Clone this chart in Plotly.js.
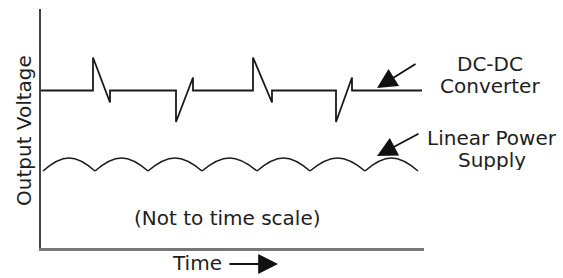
<!DOCTYPE html>
<html>
<head>
<meta charset="utf-8">
<script src="https://cdn.plot.ly/plotly-3.0.1.min.js"></script>
<style>html,body{margin:0;padding:0;background:#fff;}#chart{width:563px;height:278px;}</style>
</head>
<body>
<div id="chart"></div>
<script>
// DC-DC converter output (time units, voltage units)
var dcTime = [0, 52, 52, 69, 69, 135, 135, 152, 152, 212, 212, 231, 231, 295, 295, 311, 311, 381];
var dcVolt = [157.5, 157.5, 190.5, 145.5, 157.5, 157.5, 126, 170.5, 157.5, 157.5, 190.5, 145.5, 157.5, 157.5, 126, 170.5, 157.5, 157.5];

// Linear power supply ripple: cusp times, and ripple trough / crest levels
var linCuspTime = [2, 54, 107, 161, 216, 269, 324, 377];
var linTrough = 77;
var linCrest = 90;

var labels = {
  dc1: "DC-DC", dc2: "Converter",
  lin1: "Linear Power", lin2: "Supply",
  note: "(Not to time scale)",
  xTitle: "Time", yTitle: "Output Voltage"
};

var lineCol = "#1a1a1a";
var traces = [{
  x: dcTime, y: dcVolt, type: "scatter", mode: "lines",
  line: {color: lineCol, width: 1.8}, hoverinfo: "skip", showlegend: false
}];
for (var i = 0; i < linCuspTime.length - 1; i++) {
  var a = linCuspTime[i], b = linCuspTime[i + 1];
  traces.push({
    x: [a, (a + b) / 2, b], y: [linTrough, linCrest, linTrough],
    type: "scatter", mode: "lines",
    line: {color: lineCol, width: 1.5, shape: "spline", smoothing: 1.3},
    hoverinfo: "skip", showlegend: false
  });
}

// pixel -> paper helpers (plot area: x 41..424, y 9..248)
var L = 41, R = 424, T = 9, B = 248;
function px(x) { return (x - L) / (R - L); }
function py(y) { return (B - y) / (B - T); }
var font = {family: "DejaVu Sans, Verdana, sans-serif", size: 20, color: "#1e1e1e"};
function txt(t, x, y, extra) {
  var a = {text: t, xref: "paper", yref: "paper", x: px(x), y: py(y),
    xanchor: "center", yanchor: "middle", showarrow: false, font: font};
  for (var k in extra) a[k] = extra[k];
  return a;
}
function arrow(x0, y0, x1, y1, sz) {
  return {text: "", xref: "paper", yref: "paper", x: px(x1), y: py(y1),
    ax: x0 - x1, ay: y0 - y1, showarrow: true, arrowhead: 2, arrowsize: sz,
    arrowwidth: 1.8, arrowcolor: "#111", standoff: 0, startstandoff: 0};
}

var layout = {
  width: 563, height: 278,
  margin: {l: L, r: 563 - R, t: T, b: 278 - B, pad: 0},
  paper_bgcolor: "#fff", plot_bgcolor: "#fff",
  showlegend: false,
  xaxis: {range: [0, R - L], showgrid: false, zeroline: false, showticklabels: false,
    ticks: "", showline: true, linecolor: "#777", linewidth: 2.5, fixedrange: true},
  yaxis: {range: [0, B - T], showgrid: false, zeroline: false, showticklabels: false,
    ticks: "", showline: true, linecolor: "#444", linewidth: 2, fixedrange: true},
  annotations: [
    txt(labels.dc1, 490, 64, {height: 20}),
    txt(labels.dc2, 490, 86, {height: 20}),
    txt(labels.lin1, 492, 138, {height: 20}),
    txt(labels.lin2, 492, 160, {height: 20}),
    txt(labels.note, 227, 218),
    txt(labels.xTitle, 197, 263),
    txt(labels.yTitle, 24, 131, {textangle: -90}),
    arrow(417, 63, 377, 88, 2.2),
    arrow(420, 133, 377, 156, 2.2),
    arrow(228, 264, 278, 264, 2.2)
  ]
};

Plotly.newPlot("chart", traces, layout, {displayModeBar: false, staticPlot: true});
</script>
</body>
</html>
